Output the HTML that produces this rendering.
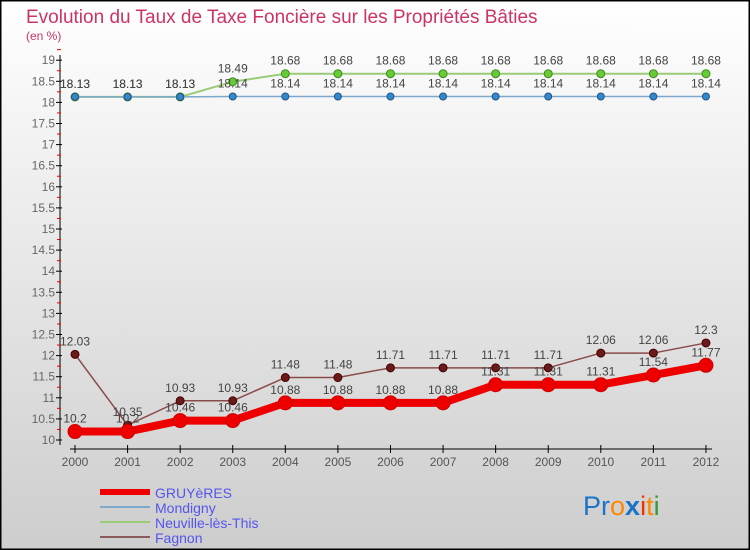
<!DOCTYPE html>
<html><head><meta charset="utf-8"><style>
body{margin:0}
#c{width:750px;height:550px;position:relative;overflow:hidden;font-family:"Liberation Sans",sans-serif}
</style></head><body>
<div id="c">
<svg id="s" width="750" height="550" xmlns="http://www.w3.org/2000/svg" font-family="Liberation Sans, sans-serif">
<defs><linearGradient id="bg" x1="0" y1="0" x2="0" y2="1"><stop offset="0" stop-color="#ffffff"/><stop offset="1" stop-color="#cdcdcd"/></linearGradient></defs>
<rect x="0" y="0" width="750" height="550" fill="url(#bg)" stroke="#000" stroke-width="3"/>
<text x="26" y="23" font-size="19" fill="#cc3366">Evolution du Taux de Taxe Foncière sur les Propriétés Bâties</text>
<text x="26" y="40" font-size="12" fill="#cc3366">(en %)</text>
<g id="axes"></g><g id="series"></g>
<g>
<line x1="100" y1="492" x2="150" y2="492" stroke="#ee0000" stroke-width="6"/>
<line x1="100" y1="507" x2="150" y2="507" stroke="#7ca8cc" stroke-width="2"/>
<line x1="100" y1="522" x2="150" y2="522" stroke="#99cc77" stroke-width="2"/>
<line x1="100" y1="537" x2="150" y2="537" stroke="#8b5a5a" stroke-width="2"/>
<text x="155" y="498" font-size="14" fill="#5555ee">GRUYèRES</text>
<text x="155" y="513" font-size="14" fill="#5555ee">Mondigny</text>
<text x="155" y="528" font-size="14" fill="#5555ee">Neuville-lès-This</text>
<text x="155" y="543" font-size="14" fill="#5555ee">Fagnon</text>
</g>
<g font-size="27">
<text x="583" y="515"><tspan fill="#1a73c8">Pr</tspan><tspan fill="#ff8800">o</tspan><tspan fill="#1a73c8" font-weight="bold">x</tspan><tspan fill="#ee3300">i</tspan><tspan fill="#ff8800">t</tspan><tspan fill="#339933">i</tspan></text>
</g>
</svg>
</div>
<script>
const years=[2000,2001,2002,2003,2004,2005,2006,2007,2008,2009,2010,2011,2012];
const gruyeres=[10.2,10.2,10.46,10.46,10.88,10.88,10.88,10.88,11.31,11.31,11.31,11.54,11.77];
const mondigny=[18.13,18.13,18.13,18.14,18.14,18.14,18.14,18.14,18.14,18.14,18.14,18.14,18.14];
const neuville=[18.13,18.13,18.13,18.49,18.68,18.68,18.68,18.68,18.68,18.68,18.68,18.68,18.68];
const fagnon=[12.03,10.35,10.93,10.93,11.48,11.48,11.71,11.71,11.71,11.71,12.06,12.06,12.3];
const yTicks=[10,10.5,11,11.5,12,12.5,13,13.5,14,14.5,15,15.5,16,16.5,17,17.5,18,18.5,19];
const NS="http://www.w3.org/2000/svg";
const X=i=>75+i*52.58, Y=v=>440-(v-10)*42.2;
function mk(t,a,p){const e=document.createElementNS(NS,t);for(const k in a)e.setAttribute(k,a[k]);p.appendChild(e);return e;}
const ax=document.getElementById('axes'), sg=document.getElementById('series');
mk('line',{x1:60,y1:55,x2:60,y2:445,stroke:'#000'},ax);
mk('line',{x1:70,y1:449,x2:712,y2:449,stroke:'#000'},ax);
yTicks.forEach(v=>{const y=Y(v);
 mk('line',{x1:56,y1:y,x2:62,y2:y,stroke:'#000'},ax);
 mk('line',{x1:57,y1:y-10.55,x2:61,y2:y-10.55,stroke:'#e00'},ax);
 const t=mk('text',{x:55,y:y+4,'font-size':12,fill:'#666','text-anchor':'end'},ax);t.textContent=String(v);
 });
years.forEach((yr,i)=>{mk('line',{x1:X(i),y1:445,x2:X(i),y2:453,stroke:'#000'},ax);
 const t=mk('text',{x:X(i),y:466,'font-size':12,fill:'#555','text-anchor':'middle'},ax);t.textContent=yr;
 });
function series(d,name,col,w,r,pf,ps){const g=mk('g',{},sg);
 
 mk('polyline',{points:d.map((v,i)=>X(i)+','+Y(v)).join(' '),fill:'none',stroke:col,'stroke-width':w,'stroke-linejoin':'round'},g);
 d.forEach((v,i)=>{const c=mk('circle',{cx:X(i),cy:Y(v),r:r,fill:pf,stroke:ps,'stroke-width':1},g);
  
  const t=mk('text',{x:X(i),y:Y(v)-9,'font-size':12,fill:'#444','text-anchor':'middle'},g);t.textContent=String(v);});}
series(neuville,'neuville','#99cc77',2,4,'#66cc33','#448822');
series(mondigny,'mondigny','#7ca8cc',1.5,3.5,'#3388cc','#225588');
series(fagnon,'fagnon','#8b4a4a',1.5,4,'#6b1a1a','#400');
series(gruyeres,'gruyeres','#ee0000',8,7,'#ee0000','#cc0000');
</script>
</body></html>
